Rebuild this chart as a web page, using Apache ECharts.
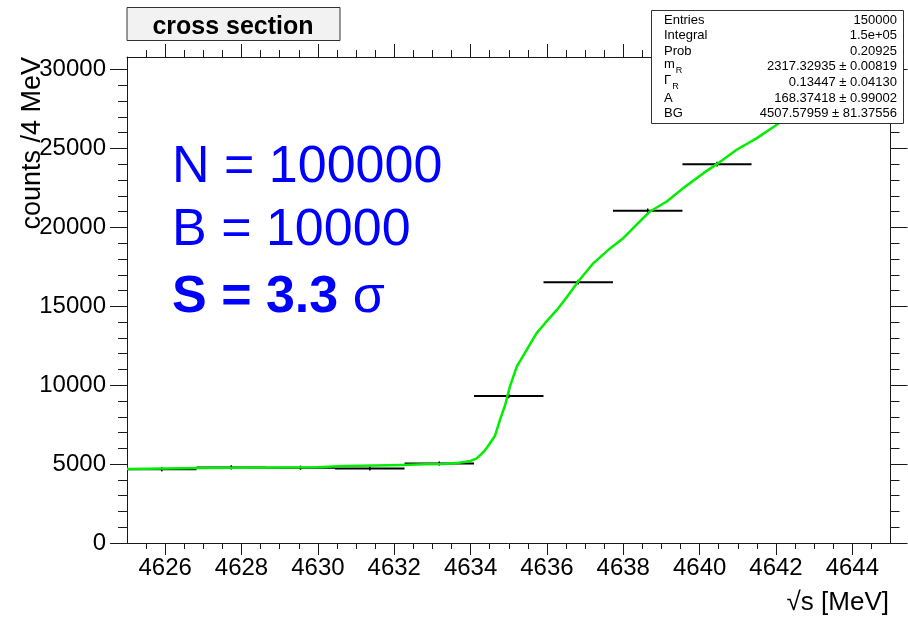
<!DOCTYPE html>
<html>
<head>
<meta charset="utf-8">
<script src="https://cdn.jsdelivr.net/npm/echarts@6/dist/echarts.min.js"></script>
<style>
  html, body { margin: 0; padding: 0; background: #fff; }
  #chart { width: 908px; height: 620px; }
</style>
</head>
<body>
<div id="chart"></div>
<script>
// Histogram bins (edges, contents, statistical errors)
const binLow    = [4625.00, 4626.82, 4628.64, 4630.45, 4632.27, 4634.09, 4635.91, 4637.73, 4639.55, 4641.36];
const binHigh   = [4626.82, 4628.64, 4630.45, 4632.27, 4634.09, 4635.91, 4637.73, 4639.55, 4641.36, 4643.18];
const binCounts = [4670, 4790, 4770, 4720, 5040, 9320, 16530, 21050, 24010, 27400];
const binErr    = [130, 130, 130, 130, 130, 140, 150, 150, 150, 150];

// Fitted curve sampled along sqrt(s)
const fitX = [4625.0, 4626.0, 4627.0, 4628.0, 4629.0, 4630.0, 4630.7, 4631.5, 4632.2, 4632.8,
              4633.3, 4633.7, 4634.0, 4634.15, 4634.25, 4634.35, 4634.43, 4634.53, 4634.64, 4634.77,
              4634.9, 4635.03, 4635.21, 4635.47, 4635.73, 4635.95, 4636.26, 4636.47, 4636.82, 4637.22,
              4637.61, 4638.0, 4638.35, 4638.7, 4639.14, 4639.57, 4640.1, 4640.45, 4640.97, 4641.5,
              4642.02, 4642.6];
const fitY = [4690, 4720, 4750, 4770, 4780, 4800, 4880, 4910, 4950, 4990,
              5010, 5090, 5200, 5350, 5560, 5800, 6050, 6400, 6800, 7800,
              8700, 9910, 11180, 12240, 13300, 13930, 14770, 15410, 16570, 17740,
              18580, 19320, 20170, 21010, 21640, 22490, 23440, 24010, 24920, 25660,
              26510, 27500];

// Axis ranges and tick positions
const xMin = 4625, xMax = 4645;
const yMin = 0, yMax = 30800;
const xMajorTicks = [4626, 4628, 4630, 4632, 4634, 4636, 4638, 4640, 4642, 4644];
const xMinorTicks = [4625.5, 4626.5, 4627, 4627.5, 4628.5, 4629, 4629.5, 4630.5, 4631, 4631.5,
                     4632.5, 4633, 4633.5, 4634.5, 4635, 4635.5, 4636.5, 4637, 4637.5, 4638.5,
                     4639, 4639.5, 4640.5, 4641, 4641.5, 4642.5, 4643, 4643.5, 4644.5];
const yMajorTicks = [0, 5000, 10000, 15000, 20000, 25000, 30000];
const yMinorTicks = [1000, 2000, 3000, 4000, 6000, 7000, 8000, 9000, 11000, 12000, 13000, 14000,
                     16000, 17000, 18000, 19000, 21000, 22000, 23000, 24000, 26000, 27000, 28000, 29000];

// Fit statistics box rows
const statNames  = ['Entries', 'Integral', 'Prob', '{n|m}{s|R}', '{n|\u0393}{s|R}', 'A', 'BG'];
const statValues = ['150000', '1.5e+05', '0.20925', '2317.32935 \u00b1 0.00819',
                    '0.13447 \u00b1 0.04130', '168.37418 \u00b1 0.99002', '4507.57959 \u00b1 81.37556'];

const FONT = '"Liberation Sans", Arial, Helvetica, sans-serif';
const AXIS_COLOR = '#1a1a1a';

// One value axis; unlabelled axes keep invisible labels so the custom tick list is honoured
function valueAxis(kind, position, ticks, len, withLabels, showLine) {
  return {
    type: 'value',
    position: position,
    min: kind === 'x' ? xMin : yMin,
    max: kind === 'x' ? xMax : yMax,
    splitLine: { show: false },
    axisLine: { show: showLine, onZero: false, lineStyle: { color: AXIS_COLOR, width: 1 } },
    axisTick: { show: true, customValues: ticks, length: len, lineStyle: { color: AXIS_COLOR, width: 1 } },
    axisLabel: {
      show: true,
      customValues: ticks,
      color: withLabels ? '#000' : 'rgba(0,0,0,0)',
      fontFamily: FONT,
      fontSize: withLabels ? 24 : 1,
      margin: withLabels ? (kind === 'x' ? 13 : 21) : 0,
      formatter: function (v) { return withLabels ? String(v) : ' '; }
    }
  };
}

const chart = echarts.init(document.getElementById('chart'), null, { renderer: 'canvas' });

const statGraphics = [];
statNames.forEach(function (name, i) {
  const y = 20 + i * 15.6;
  statGraphics.push({
    type: 'text', z: 101, x: 664, y: y,
    style: {
      text: name, fill: '#000', font: '13px ' + FONT, verticalAlign: 'middle', align: 'left',
      rich: {
        n: { fontSize: 13, fontFamily: FONT, fill: '#000', verticalAlign: 'top', padding: [0, 0, 4, 0] },
        s: { fontSize: 9, fontFamily: FONT, fill: '#000', verticalAlign: 'bottom', padding: [6, 0, 0, 1] }
      }
    }
  });
  statGraphics.push({
    type: 'text', z: 101, x: 897, y: y,
    style: { text: statValues[i], fill: '#000', font: '13px ' + FONT, verticalAlign: 'middle', align: 'right' }
  });
});

const option = {
  animation: false,
  backgroundColor: '#fff',
  grid: { left: 127, right: 17.5, top: 57, bottom: 77, containLabel: false, outerBoundsMode: 'none' },
  xAxis: [
    valueAxis('x', 'bottom', xMajorTicks, 12, true, true),
    valueAxis('x', 'bottom', xMinorTicks, 6, false, false),
    valueAxis('x', 'top', xMajorTicks, 13, false, true),
    valueAxis('x', 'top', xMinorTicks, 7, false, false)
  ],
  yAxis: [
    valueAxis('y', 'left', yMajorTicks, 17, true, true),
    valueAxis('y', 'left', yMinorTicks, 9, false, false),
    valueAxis('y', 'right', yMajorTicks, 17, false, true),
    valueAxis('y', 'right', yMinorTicks, 9, false, false)
  ],
  series: [
    {
      // histogram contents drawn as bin-width bars with vertical error bars
      type: 'custom',
      xAxisIndex: 0, yAxisIndex: 0,
      z: 2,
      clip: true,
      data: binLow.map(function (lo, i) { return [lo, binHigh[i], binCounts[i], binErr[i]]; }),
      encode: { x: [0, 1], y: [2] },
      renderItem: function (params, api) {
        const lo = api.value(0), hi = api.value(1), v = api.value(2), e = api.value(3);
        const mid = (lo + hi) / 2;
        const pL = api.coord([lo, v]);
        const pR = api.coord([hi, v]);
        const pT = api.coord([mid, v + e]);
        const pB = api.coord([mid, v - e]);
        return {
          type: 'group',
          children: [
            { type: 'line', shape: { x1: pL[0], y1: pL[1], x2: pR[0], y2: pR[1] },
              style: { stroke: '#000', lineWidth: 2 } },
            { type: 'line', shape: { x1: pT[0], y1: pT[1], x2: pB[0], y2: pB[1] },
              style: { stroke: '#000', lineWidth: 1.5 } }
          ]
        };
      }
    },
    {
      // fitted function
      type: 'line',
      xAxisIndex: 0, yAxisIndex: 0,
      z: 3,
      data: fitX.map(function (x, i) { return [x, fitY[i]]; }),
      showSymbol: false,
      smooth: false,
      clip: true,
      lineStyle: { color: '#00ee00', width: 2.5, join: 'round' }
    }
  ],
  graphic: [
    // histogram title box
    { type: 'rect', z: 100, shape: { x: 127, y: 7.5, width: 213, height: 33 },
      style: { fill: '#f2f2f2', stroke: '#333', lineWidth: 1 } },
    { type: 'text', z: 101, x: 233, y: 27,
      style: { text: 'cross section', fill: '#000', font: 'bold 25px ' + FONT, align: 'center', verticalAlign: 'middle' } },
    // fit statistics box
    { type: 'rect', z: 100, shape: { x: 651.5, y: 10.5, width: 252, height: 113 },
      style: { fill: '#fff', stroke: '#333', lineWidth: 1 } }
  ].concat(statGraphics).concat([
    // annotation texts
    { type: 'text', z: 101, x: 172, y: 142,
      style: { text: 'N = 100000', fill: '#0000ff', font: '52px ' + FONT, verticalAlign: 'alphabetic', align: 'left' } },
    { type: 'text', z: 101, x: 172, y: 205,
      style: { text: 'B = 10000', fill: '#0000ff', font: '52px ' + FONT, verticalAlign: 'alphabetic', align: 'left' } },
    { type: 'text', z: 101, x: 172, y: 272,
      style: {
        text: '{b|S = 3.3 }{g|\u03c3}', fill: '#0000ff', font: 'bold 52px ' + FONT,
        verticalAlign: 'alphabetic', align: 'left',
        rich: {
          b: { fontSize: 52, fontWeight: 'bold', fontFamily: FONT, fill: '#0000ff' },
          g: { fontSize: 52, fontWeight: 'normal', fontFamily: FONT, fill: '#0000ff' }
        }
      } },
    // axis titles
    { type: 'text', z: 101, x: 33, y: 57, rotation: Math.PI / 2,
      style: { text: 'counts /4 MeV', fill: '#000', font: '27px ' + FONT, align: 'right', verticalAlign: 'middle' } },
    { type: 'text', z: 101, x: 889, y: 603,
      style: { text: '\u221as [MeV]', fill: '#000', font: '26px ' + FONT, align: 'right', verticalAlign: 'middle' } }
  ])
};

chart.setOption(option);
</script>
</body>
</html>
